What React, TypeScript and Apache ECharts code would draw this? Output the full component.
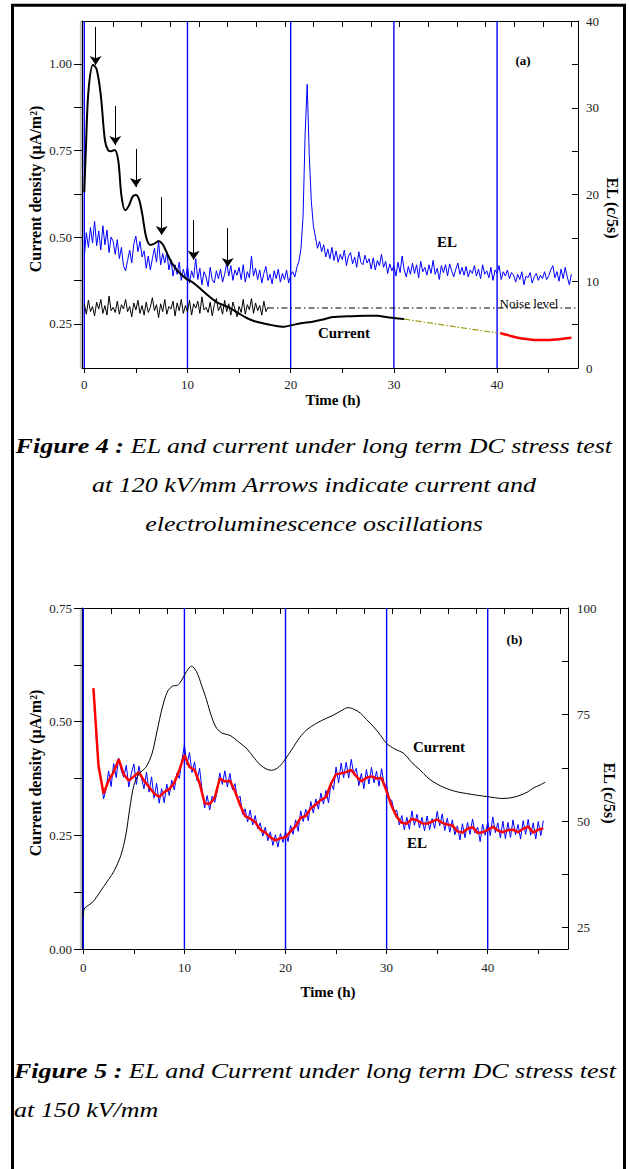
import React, { useEffect, useRef } from "react";
import * as echarts from "echarts";

const FONT = "Liberation Serif, Times New Roman, serif";

// ---------- Figure 4 (a) : 120 kV/mm ----------
// current density (µA/m²) vs time (h)
const aCurrent: [number, number][] = [
  [0, 0.63], [0.15, 0.75], [0.4, 0.92], [0.85, 0.998], [1.2, 0.985], [1.6, 0.91], [2.0, 0.78],
  [2.3, 0.752], [2.6, 0.748], [2.95, 0.752], [3.3, 0.72], [3.6, 0.62], [3.95, 0.578], [4.3, 0.59],
  [4.7, 0.618], [5.0, 0.622], [5.3, 0.61], [5.6, 0.57], [6.0, 0.5], [6.4, 0.478], [6.8, 0.482],
  [7.2, 0.489], [7.6, 0.48], [8.0, 0.455], [8.5, 0.425], [9.0, 0.405], [9.5, 0.39], [10, 0.378],
  [10.5, 0.37], [11.2, 0.353], [12, 0.332], [12.5, 0.32], [13, 0.31], [14, 0.298], [15, 0.28],
  [15.7, 0.268], [16.5, 0.258], [17.3, 0.252], [18.3, 0.246], [19.3, 0.242], [20, 0.246],
  [21, 0.252], [22, 0.256], [23, 0.262], [24.1, 0.27], [25.5, 0.272], [27.4, 0.274], [28.4, 0.274],
  [29.2, 0.27], [30, 0.267], [31, 0.264],
];
const aCurrentExtrapolated: [number, number][] = [[31, 0.264], [40, 0.224]];
const aCurrentEnd: [number, number][] = [
  [40.3, 0.224], [41, 0.218], [42, 0.21], [43, 0.206], [44, 0.204], [45, 0.204], [46, 0.206], [47.2, 0.21],
];
// EL (c/5s), sampled every 0.2 h from t = 0
const aElStart = 0;
const aElStep = 0.2;
const aEl: number[] = [
  12.8, 15.6, 13.9, 16.2, 14.4, 16.9, 14.1, 15.8, 13.6, 16.4,
  14.2, 15.9, 13.3, 15.1, 14.6, 13.1, 14.8, 12.6, 13.9, 11.8,
  11.2, 12.4, 13.6, 12.1, 14.3, 15.2, 13.4, 14.6, 12.8, 13.5,
  11.5, 12.9, 11.3, 12.6, 13.8, 12.2, 14.6, 11.9, 13.2, 12.1,
  13.4, 11.3, 12.5, 10.6, 11.9, 10.8, 12.2, 10.1, 11.4, 10.3,
  11.7, 9.8, 11.2, 10.4, 12.6, 10.2, 11.5, 9.6, 11.1, 10.5,
  9.4, 11.6, 10.2, 9.8, 11.2, 10.3, 11.4, 9.9, 10.8, 12.1,
  10.6, 11.8, 10.1, 11.3, 10.7, 11.6, 10.2, 11.9, 9.9, 11.1,
  10.4, 12.9, 10.6, 11.5, 10.2, 11.3, 9.8, 10.9, 11.7, 10.1,
  10.8, 9.7, 11.2, 10.3, 11.4, 9.9, 10.9, 10.2, 11.3, 9.8,
  10.7, 11.1, 10.5, 11.6, 12.3, 13.8, 17.5, 27.0, 32.7, 24.5,
  19.2, 16.4, 15.1, 13.8, 14.6, 13.4, 14.2, 12.8, 13.7, 12.6,
  13.9, 12.4, 13.5, 12.2, 13.1, 12.5, 13.6, 11.8, 12.9, 13.3,
  12.0, 12.8, 11.6, 13.4, 12.2, 11.9, 13.0, 12.1, 12.6, 11.4,
  12.7, 11.3, 12.4, 11.8, 13.1, 11.6, 12.3, 10.9, 12.0, 11.2,
  11.8, 10.6, 12.2, 11.0, 12.9, 11.3, 10.5, 11.7, 10.8, 12.1,
  10.9, 11.9, 10.4, 12.3, 11.1, 11.6, 10.7, 11.9, 10.9, 12.4,
  10.8, 11.5, 10.2, 11.8, 11.0, 11.9, 10.6, 12.0, 11.2, 10.5,
  11.4, 12.1, 10.8, 11.6, 10.7, 11.7, 10.5, 11.3, 10.9, 11.8,
  10.6, 11.4, 10.3, 11.9, 10.8, 11.2, 10.4, 11.6, 10.1, 11.3,
  10.9, 11.8, 10.2, 11.1, 10.6, 11.3, 10.3, 11.0, 10.7, 9.9,
  10.8, 10.2, 11.1, 9.6, 10.6, 10.4, 11.0, 9.8, 10.5, 10.9,
  10.1, 10.7, 10.3, 11.1, 10.2, 10.6, 11.3, 11.8, 10.4, 11.1,
  10.0, 11.4, 10.3, 11.6, 10.5, 9.6, 10.8,
];
// detector noise (c/5s), every 0.2 h from t = 0
const aNoiseStart = 0;
const aNoiseStep = 0.2;
const aNoise: number[] = [
  7.4, 6.2, 7.8, 6.5, 7.1, 6.0, 7.6, 6.8, 7.9, 6.3,
  7.2, 6.1, 8.3, 6.6, 7.0, 6.4, 7.7, 6.2, 7.3, 6.8,
  7.9, 6.5, 7.1, 5.9, 7.5, 6.7, 7.8, 6.3, 7.2, 6.1,
  7.6, 6.4, 7.0, 8.1, 6.6, 7.3, 5.8, 7.4, 6.5, 7.9,
  6.2, 7.1, 6.8, 7.7, 6.0, 7.5, 6.6, 7.9, 6.3, 7.2,
  6.5, 7.8, 6.1, 7.4, 6.9, 7.7, 6.3, 8.2, 6.7, 7.0,
  6.4, 7.6, 6.0, 7.3, 8.0, 6.6, 7.2, 6.2, 7.8, 6.5,
  7.4, 6.1, 7.6, 6.8, 5.9, 7.1, 6.4, 7.9, 6.2, 7.3,
  6.7, 8.0, 6.3, 7.5, 6.6, 7.2, 6.1, 7.7, 6.5, 7.0,
];
const aNoiseLevel = 6.92;
const aNoiseLevelFrom = 17.8;
const aNoiseLevelTo = 47.6;
// arrows: [time, from current, to current]
const aArrows: [number, number, number][] = [
  [1.1, 1.107, 0.997], [3.0, 0.879, 0.766], [5.0, 0.755, 0.645],
  [7.5, 0.616, 0.507], [10.6, 0.55, 0.435], [13.9, 0.527, 0.414],
];

// ---------- Figure 5 (b) : 150 kV/mm ----------
const bCurrent: [number, number][] = [
  [0, 0.07], [0.08, 0.088], [0.5, 0.096], [1, 0.105], [2, 0.137], [3, 0.17], [3.7, 0.205],
  [4.2, 0.25], [4.6, 0.31], [5.0, 0.36], [5.5, 0.385], [6.2, 0.4], [6.8, 0.43], [7.3, 0.48],
  [7.8, 0.53], [8.3, 0.565], [8.8, 0.578], [9.3, 0.58], [9.7, 0.59], [10.2, 0.61], [10.7, 0.622],
  [11.2, 0.61], [11.7, 0.58], [12.2, 0.547], [12.7, 0.51], [13.2, 0.485], [13.8, 0.474],
  [14.5, 0.47], [15.5, 0.453], [16.2, 0.44], [16.8, 0.423], [17.5, 0.405], [18.1, 0.396],
  [18.6, 0.393], [19.2, 0.398], [19.8, 0.412], [20.3, 0.428], [20.8, 0.445], [21.4, 0.465],
  [22.1, 0.482], [23.1, 0.497], [24, 0.507], [24.7, 0.514], [25.5, 0.524], [26.2, 0.531],
  [26.8, 0.527], [27.4, 0.519], [28, 0.505], [28.7, 0.489], [29.4, 0.47], [30, 0.452],
  [30.8, 0.44], [31.7, 0.43], [32.5, 0.41], [33.3, 0.394], [34.0, 0.378], [34.6, 0.368],
  [35.4, 0.358], [36.3, 0.35], [37.1, 0.345], [37.9, 0.342], [39, 0.338], [40, 0.335],
  [41.5, 0.331], [42.4, 0.333], [43.2, 0.338], [44, 0.346], [44.5, 0.354], [45.2, 0.361], [45.7, 0.367],
];
// raw EL (c/5s), every 0.25 h from t = 1.25
const bElStart = 1.25;
const bElStep = 0.25;
const bEl: number[] = [
  70.5, 63.0, 60.2,
  55.2, 57.4, 61.8, 58.1, 63.5, 60.2, 64.8, 61.9, 60.3, 63.1, 58.0, 61.2,
  63.4, 58.6, 62.9, 60.1, 57.6, 61.5, 56.8, 60.4, 55.4, 58.9, 54.2, 57.6,
  54.3, 58.7, 56.0, 59.6, 57.3, 61.2, 60.0, 64.3, 67.8, 63.2, 66.1, 61.4,
  63.9, 59.5, 62.4, 57.2, 53.1, 56.0, 52.6, 55.9, 54.4, 57.1, 61.3, 58.6,
  61.8, 58.0, 61.2, 57.4, 58.8, 55.1, 55.9, 51.6, 52.9, 49.8, 52.6, 49.1,
  51.3, 48.2, 49.6, 46.5, 48.6, 45.4, 47.5, 44.3, 46.8, 43.9, 47.1, 45.0,
  47.5, 45.2, 49.0, 46.9, 50.3, 47.6, 52.4, 49.9, 52.8, 50.1, 54.6, 51.9,
  55.2, 52.8, 56.6, 54.0, 57.2, 54.3, 58.9, 57.4, 62.7, 59.0, 63.6, 60.2,
  63.8, 60.1, 64.5, 61.0, 62.4, 58.3, 61.2, 57.6, 62.1, 58.7, 62.6, 59.0,
  61.7, 58.2, 62.3, 58.6, 58.4, 55.1, 54.9, 52.2, 52.6, 49.1, 51.3, 48.0,
  50.9, 48.1, 52.4, 49.0, 51.6, 48.4, 50.9, 47.7, 51.2, 48.0, 50.6, 48.3,
  52.3, 48.9, 51.7, 47.8, 50.7, 47.4, 50.3, 46.8, 48.9, 45.6, 49.4, 46.1,
  49.7, 46.9, 50.5, 47.2, 48.6, 45.2, 49.3, 46.7, 49.8, 46.6, 51.0, 47.3,
  49.6, 46.1, 50.0, 45.9, 49.7, 46.2, 50.3, 46.8, 49.2, 45.8, 50.1, 46.9,
  50.4, 46.7, 49.6, 45.8, 49.9, 46.6, 50.1,
];
// smoothed EL (c/5s), every 0.5 h from t = 1
const bElSmoothStart = 1;
const bElSmoothStep = 0.5;
const bElSmooth: number[] = [
  81.2, 63.0, 56.5, 59.5, 61.5, 64.5, 61.0, 59.5, 60.5, 61.5,
  59.5, 58.0, 56.5, 55.7, 56.8, 57.5, 59.0, 62.0, 65.5, 62.7,
  62.0, 58.9, 54.2, 54.0, 55.5, 60.0, 59.3, 59.5, 57.0, 53.8,
  51.2, 50.6, 49.8, 48.0, 47.3, 46.2, 45.5, 46.0, 46.2, 47.6,
  48.8, 50.8, 51.2, 53.0, 53.9, 55.0, 55.6, 58.8, 61.0, 61.2,
  61.5, 62.0, 60.5, 59.3, 60.2, 60.5, 60.0, 60.1, 57.0, 53.5,
  51.0, 49.6, 49.4, 50.5, 50.2, 49.5, 49.4, 49.9, 50.4, 49.6,
  49.2, 49.0, 47.6, 47.3, 48.2, 48.6, 47.2, 47.4, 47.9, 48.7,
  47.8, 47.4, 47.9, 48.0, 47.4, 48.2, 48.7, 47.3, 48.0, 48.3,
];

// ---------- axes ----------
const timeTicks = [0, 5, 10, 15, 20, 25, 30, 35, 40, 45];
const timeLabels = [0, 10, 20, 30, 40];
const topTickSeconds = [0, 10000, 20000, 30000, 40000, 50000, 60000, 70000, 80000, 90000,
  100000, 110000, 120000, 130000, 140000, 150000, 160000, 170000];
const guideLines = [0, 10, 20, 30, 40];
const aCurRange = [0.123, 1.124];
const aElRange = [0, 40];
const bCurRange = [0, 0.75];
const bElRange = [20, 100];
const aCurTicks = [0.25, 0.375, 0.5, 0.625, 0.75, 0.875, 1.0];
const aCurLabels = [0.25, 0.5, 0.75, 1.0];
const aElTicks = [0, 5, 10, 15, 20, 25, 30, 35, 40];
const aElLabels = [0, 10, 20, 30, 40];
const bCurTicks = [0, 0.125, 0.25, 0.375, 0.5, 0.625, 0.75];
const bCurLabels = [0, 0.25, 0.5, 0.75];
const bElTicks = [25, 37.5, 50, 62.5, 75, 87.5, 100];
const bElLabels = [25, 50, 75, 100];

const sampled = (start: number, step: number, vals: number[]) =>
  vals.map((v, i) => [+(start + i * step).toFixed(3), v]);

const labelStyle = { fontFamily: FONT, fontSize: 13, color: "#222" };

function xBottom(grid: number, min: number, max: number, margin: number) {
  return {
    type: "value", gridIndex: grid, position: "bottom", min, max,
    axisLine: { show: true, onZero: false, lineStyle: { color: "#000", width: 1 } },
    axisTick: { show: true, inside: false, length: 5, customValues: timeTicks, lineStyle: { color: "#000" } },
    axisLabel: { show: true, customValues: timeLabels, margin, ...labelStyle },
    splitLine: { show: false },
  };
}
function xTop(grid: number, min: number, max: number) {
  return {
    type: "value", gridIndex: grid, position: "top", min, max,
    axisLine: { show: true, onZero: false, lineStyle: { color: "#000", width: 1 } },
    axisTick: { show: true, inside: true, length: 6, customValues: topTickSeconds.map((s) => s / 3600), lineStyle: { color: "#000" } },
    axisLabel: { show: false },
    splitLine: { show: false },
  };
}
function yAxis(grid: number, pos: string, range: number[], ticks: number[], labels: number[], digits: number, margin: number) {
  return {
    type: "value", gridIndex: grid, position: pos, min: range[0], max: range[1],
    axisLine: { show: true, onZero: false, lineStyle: { color: "#000", width: 1 } },
    axisTick: { show: true, inside: pos === "right", length: pos === "right" ? 6 : 8, customValues: ticks, lineStyle: { color: "#000" } },
    axisLabel: { show: true, customValues: labels, margin, formatter: (v: number) => v.toFixed(digits), ...labelStyle },
    splitLine: { show: false },
  };
}

// vertical blue guide lines drawn as small two-point series
function guides(xIdx: number, yIdx: number, range: number[]) {
  return guideLines.map((v) => ({
    type: "line", name: "guide " + v, xAxisIndex: xIdx, yAxisIndex: yIdx, silent: true,
    data: [[v, range[0]], [v, range[1]]],
    symbol: "none", lineStyle: { color: "#0000ff", width: 1.4 }, z: 1,
  }));
}

function txt(x: number, y: number, text: string, size: number, bold: boolean, rotation = 0, align = "center") {
  return {
    type: "text", x, y, rotation, z: 50,
    style: {
      text, fontFamily: FONT, fontSize: size, fontWeight: bold ? "bold" : "normal",
      fill: "#000", align, verticalAlign: "middle",
    },
  };
}
function caption(x: number, y: number, head: string, rest: string, align: string) {
  return {
    type: "text", x, y, scaleX: 1.3, z: 50,
    style: {
      text: (head ? "{b|" + head + "}" : "") + rest,
      rich: { b: { fontFamily: FONT, fontSize: 20, fontWeight: "bold", fontStyle: "italic", fill: "#000" } },
      fontFamily: FONT, fontSize: 20, fontStyle: "italic", fill: "#000", align, verticalAlign: "middle",
    },
  };
}

const option = {
  animation: false,
  backgroundColor: "#fff",
  grid: [
    { left: 82, top: 21, width: 496, height: 347 },
    { left: 82, top: 608, width: 486, height: 341 },
  ],
  xAxis: [
    xBottom(0, -0.22, 47.84, 10),
    xTop(0, -0.22, 47.84),
    xBottom(1, -0.13, 47.94, 12),
    xTop(1, -0.13, 47.94),
  ],
  yAxis: [
    yAxis(0, "left", aCurRange, aCurTicks, aCurLabels, 2, 10),
    yAxis(0, "right", aElRange, aElTicks, aElLabels, 0, 8),
    yAxis(1, "left", bCurRange, bCurTicks, bCurLabels, 2, 10),
    yAxis(1, "right", bElRange, bElTicks, bElLabels, 0, 9),
  ],
  series: [
    ...guides(0, 1, aElRange),
    ...guides(2, 3, bElRange),
    {
      type: "line", name: "EL (a)", xAxisIndex: 0, yAxisIndex: 1, data: sampled(aElStart, aElStep, aEl),
      symbol: "none", lineStyle: { color: "#0000ff", width: 1 }, z: 3,
    },
    {
      type: "line", name: "noise (a)", xAxisIndex: 0, yAxisIndex: 1, data: sampled(aNoiseStart, aNoiseStep, aNoise),
      symbol: "none", lineStyle: { color: "#000", width: 1 }, z: 4,
    },
    {
      type: "line", name: "noise level", xAxisIndex: 0, yAxisIndex: 1,
      data: [[aNoiseLevelFrom, aNoiseLevel], [aNoiseLevelTo, aNoiseLevel]],
      symbol: "none", lineStyle: { color: "#000", width: 1, type: [6, 3, 1.5, 3] }, z: 4,
    },
    {
      type: "line", name: "current (a)", xAxisIndex: 0, yAxisIndex: 0, data: aCurrent, smooth: 0.3,
      symbol: "none", lineStyle: { color: "#000", width: 2 }, z: 5,
      markLine: {
        silent: true, symbol: ["none", "arrow"], symbolSize: 9, label: { show: false },
        lineStyle: { color: "#000", width: 1, type: "solid" },
        data: aArrows.map(([t, a, b]) => [{ coord: [t, a] }, { coord: [t, b] }]),
      },
    },
    {
      type: "line", name: "current extrapolated (a)", xAxisIndex: 0, yAxisIndex: 0, data: aCurrentExtrapolated,
      symbol: "none", lineStyle: { color: "#9a9a10", width: 1.2, type: [6, 2, 1.5, 2] }, z: 5,
    },
    {
      type: "line", name: "current end (a)", xAxisIndex: 0, yAxisIndex: 0, data: aCurrentEnd, smooth: 0.4,
      symbol: "none", lineStyle: { color: "#ff0000", width: 2.5 }, z: 5,
    },
    {
      type: "line", name: "EL (b)", xAxisIndex: 2, yAxisIndex: 3, data: sampled(bElStart, bElStep, bEl),
      symbol: "none", lineStyle: { color: "#0000ff", width: 1 }, z: 3,
    },
    {
      type: "line", name: "EL smoothed (b)", xAxisIndex: 2, yAxisIndex: 3, data: sampled(bElSmoothStart, bElSmoothStep, bElSmooth),
      symbol: "none", lineStyle: { color: "#ff0000", width: 2.5 }, z: 4,
    },
    {
      type: "line", name: "current (b)", xAxisIndex: 2, yAxisIndex: 2, data: bCurrent, smooth: 0.3,
      symbol: "none", lineStyle: { color: "#000", width: 1 }, z: 5,
    },
  ],
  graphic: [
    { type: "rect", shape: { x: 12.5, y: 5.3, width: 612, height: 1200 }, style: { fill: "none", stroke: "#000", lineWidth: 3 }, z: 40 },
    { type: "rect", shape: { x: 79.8, y: 21, width: 2.2, height: 347 }, style: { fill: "#c4c4c4" }, z: 0 },
    { type: "rect", shape: { x: 79.8, y: 608, width: 2.2, height: 341 }, style: { fill: "#c4c4c4" }, z: 0 },
    // chart (a)
    txt(35, 189, "Current density (µA/m²)", 16, true, Math.PI / 2),
    txt(612, 208, "EL (c/5s)", 16, true, -Math.PI / 2),
    txt(333, 400, "Time (h)", 15, true),
    txt(523, 60, "(a)", 13, true),
    txt(447, 242, "EL", 15, true),
    txt(344, 332.5, "Current", 15, true),
    txt(529, 303.5, "Noise level", 13, false),
    // caption 4
    caption(314, 446.5, "Figure 4 :", " EL and current under long term DC stress test", "center"),
    caption(314, 485.5, "", "at 120 kV/mm Arrows indicate current and", "center"),
    caption(314, 524.5, "", "electroluminescence oscillations", "center"),
    // chart (b)
    txt(35, 773, "Current density (µA/m²)", 16, true, Math.PI / 2),
    txt(609, 793, "EL (c/5s)", 16, true, -Math.PI / 2),
    txt(328, 991.5, "Time (h)", 15, true),
    txt(514.5, 639, "(b)", 13, true),
    txt(439, 746.5, "Current", 15, true),
    txt(417, 842.5, "EL", 15, true),
    // caption 5
    caption(14, 1071.5, "Figure 5 :", " EL and Current under long term DC stress test", "left"),
    caption(14, 1110.5, "", "at 150 kV/mm", "left"),
  ],
};

export default function App() {
  const ref = useRef<HTMLDivElement>(null);
  useEffect(() => {
    if (!ref.current) return;
    const chart = echarts.init(ref.current, null, { renderer: "svg", width: 630, height: 1169 });
    chart.setOption(option as any);
    return () => chart.dispose();
  }, []);
  return (
    <div
      ref={ref}
      style={{ position: "absolute", left: 0, top: 0, width: 630, height: 1169, background: "#fff" }}
    />
  );
}
